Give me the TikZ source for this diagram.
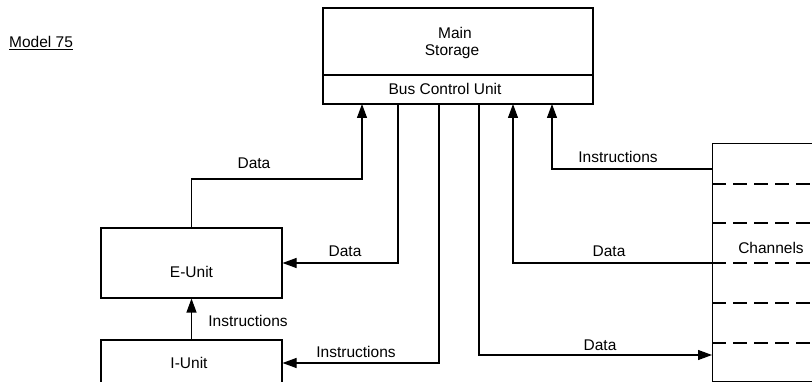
\documentclass[tikz,border=0pt]{standalone}
\usepackage{fontspec}
\setmainfont{Liberation Sans}
\usetikzlibrary{arrows.meta,calc}
\begin{document}
\begin{tikzpicture}[x=1pt,y=-1pt,
  box/.style={draw,line width=1.1pt,rectangle,inner sep=0pt},
  conn/.style={line width=1.1pt},
  arr/.style={conn,-{Triangle[length=14pt,width=10pt]}},
  dsh/.style={line width=1.1pt,dash pattern=on 14pt off 7pt},
  lbl/.style={font=\fontsize{15.5}{18}\selectfont,inner sep=0pt}]
\useasboundingbox (0,0) rectangle (812,382);
% title
\node[lbl,anchor=west] (title) at (9,43) {\underline{Model 75}};
% main storage
\node[box,minimum width=270pt,minimum height=96pt] (ms) at (458,56) {};
\coordinate (dv) at (0,75);
\draw[conn] (ms.west |- dv) -- (ms.east |- dv);
\node[lbl] (main) at (455,33) {Main};
\node[lbl] (stor) at (452,52) {Storage};
\node[lbl] (bcu) at (445,89) {Bus Control Unit};
\coordinate (b1) at (362,104);
\coordinate (b2) at (398,104);
\coordinate (b3) at (439,104);
\coordinate (b4) at (479,104);
\coordinate (b5) at (513,104);
\coordinate (b6) at (552,104);
% units
\node[box,minimum width=181pt,minimum height=70pt] (eu) at (191.5,263) {};
\node[lbl] (eut) at (191.5,272) {E-Unit};
\node[box,minimum width=181pt,minimum height=46pt] (iu) at (191.5,363) {};
\node[lbl] (iut) at (189,363) {I-Unit};
% channels
\node[box,minimum width=130pt,minimum height=238pt,anchor=north west] (ch) at (712,143) {};
\node[lbl] (cht) at (771,248) {Channels};
\foreach \yy/\nm in {184/d1,223/d2,263/d3,303/d4,343/d5}{
  \coordinate (\nm) at (712,\yy);
  \draw[dsh] (\nm) -- ++(110,0);
}
\coordinate (c1) at (712,169);
\coordinate (c4) at (712,355);
\coordinate (j1) at (0,179);
% connectors
\draw[arr] (eu.north) -- (eu.north |- j1) -| (b1);
\draw[arr] (b2) |- (eu.east);
\draw[arr] (b3) |- (iu.east);
\draw[arr] (b4) |- (c4);
\draw[arr] (d3) -| (b5);
\draw[arr] (c1) -| (b6);
\draw[arr] (iu.north) -- (eu.south);
% labels
\node[lbl] (l1) at (254,163) {Data};
\node[lbl] (l2) at (345,251) {Data};
\node[lbl] (l3) at (248,321) {Instructions};
\node[lbl] (l4) at (356,352) {Instructions};
\node[lbl] (l5) at (618,157) {Instructions};
\node[lbl] (l6) at (609,251) {Data};
\node[lbl] (l7) at (600,345) {Data};
\end{tikzpicture}
\end{document}
